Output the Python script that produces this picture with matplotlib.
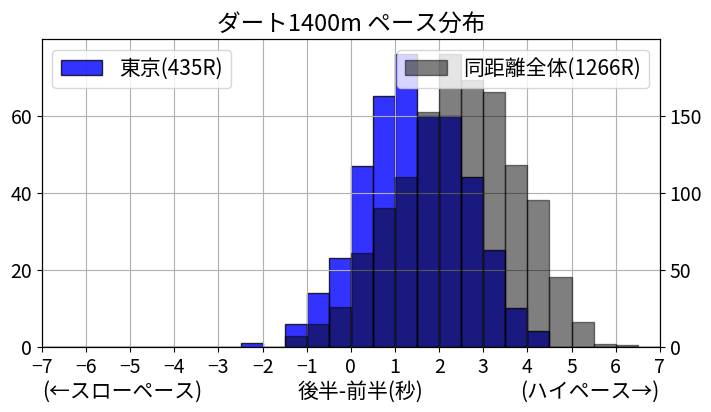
import numpy as np
import matplotlib
matplotlib.use('Agg')
import matplotlib.pyplot as plt

plt.rcParams['font.family'] = ['Noto Sans CJK JP', 'DejaVu Sans']

# bin edges: -7 .. 7 step 0.5 (counts per bin, left edge listed)
bin_left = np.arange(-7.0, 7.0, 0.5)
tokyo_counts = [0, 0, 0, 0, 0, 0, 0, 0, 0, 1, 0, 6, 14, 23,
                47, 65, 76, 60, 60, 44, 25, 10, 4, 0, 0, 0, 0, 0]
all_counts = [0, 0, 0, 0, 0, 0, 0, 0, 0, 0, 0, 7, 15, 26,
              61, 90, 110, 152, 190, 173, 165, 118, 95, 45, 16, 2, 1, 0]
tokyo_label = '東京(435R)'
all_label = '同距離全体(1266R)'
title = 'ダート1400m ペース分布'
xticks = list(range(-7, 8))

fig = plt.figure(figsize=(7.11, 4.12), dpi=100)
ax = fig.add_axes([0.059, 0.158, 0.869, 0.747])

ax.bar(bin_left, tokyo_counts, width=0.5, align='edge', color='blue',
       alpha=0.8, edgecolor='black', label=tokyo_label)
ax.set_xlim(-7, 7)
ax.set_xticks(xticks)
ax.grid(True)
ax.tick_params(labelsize=14)
ax.legend(loc='upper left', fontsize=15)

ax2 = ax.twinx()
ax2.bar(bin_left, all_counts, width=0.5, align='edge', color='black',
        alpha=0.5, edgecolor='black', label=all_label)
ax2.tick_params(labelsize=14)
ax2.legend(loc='upper right', fontsize=15)

ax.set_title(title, fontsize=17)
ax.text(0.0, -0.11, '(←スローペース)', transform=ax.transAxes,
        ha='left', va='top', fontsize=15)
ax.text(0.515, -0.11, '後半-前半(秒)', transform=ax.transAxes,
        ha='center', va='top', fontsize=15)
ax.text(1.0, -0.11, '(ハイペース→)', transform=ax.transAxes,
        ha='right', va='top', fontsize=15)

plt.savefig('out.png', dpi=100)
